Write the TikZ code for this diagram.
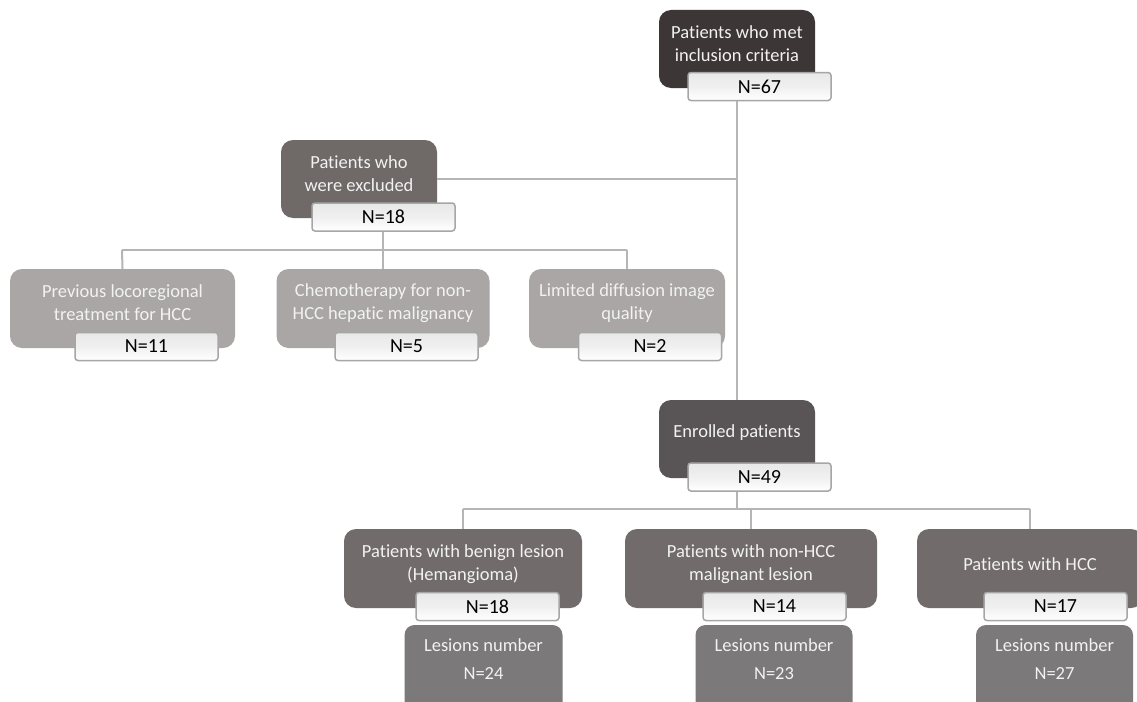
\documentclass[tikz,border=0pt]{standalone}
\usepackage{fontspec}
\setmainfont[RawFeature={-liga;-clig;-dlig;-calt}]{Carlito}
\definecolor{cTop}{HTML}{3C3637}
\definecolor{cExc}{HTML}{6F6968}
\definecolor{cLight}{HTML}{AAA6A5}
\definecolor{cEnr}{HTML}{595556}
\definecolor{cPat}{HTML}{716B6B}
\definecolor{cLes}{HTML}{7B797A}
\definecolor{cLine}{HTML}{B5B5B5}
\definecolor{cNbord}{HTML}{A6A6A6}
\definecolor{cTxt}{HTML}{F2F2F2}
\tikzset{
  box/.style={rectangle, rounded corners=12pt, draw=none, inner sep=0pt},
  nbox/.style={rectangle, rounded corners=3pt, draw=cNbord, line width=1.5pt,
     top color=black!9, bottom color=white, middle color=black!6,
     inner sep=0pt, minimum height=28pt, minimum width=143pt,
     font=\fontsize{20}{24}\selectfont, text=black},
  txt/.style={align=center, text=cTxt, font=\fontsize{18.5}{23}\selectfont, inner sep=0pt},
  ltxt/.style={align=center, text=cTxt, font=\fontsize{18.5}{28}\selectfont, inner sep=0pt},
  conn/.style={draw=cLine, line width=2pt},
}
\begin{document}
\begin{tikzpicture}[x=1pt,y=-1pt]
\clip (0,0) rectangle (1137,701);
\fill[white] (0,0) rectangle (1137,701);
\coordinate (j1) at (737,179);
\coordinate (hl) at (122,250);
\coordinate (hm) at (383,250);
\coordinate (hr) at (627,250);
\coordinate (bl) at (463,509);
\coordinate (bm) at (751,509);
\coordinate (br) at (1030,509);
\coordinate (be) at (737,509);
\coordinate (ex) at (383,250);

% top
\node[box, fill=cTop, minimum width=156pt, minimum height=78pt] (top) at (737,49) {};
\node[txt] (topt) at (737,44) {Patients who met\\inclusion criteria};
\node[nbox] (topn) at (759.5,86.5) {N=67};

% excluded
\node[box, fill=cExc, minimum width=156pt, minimum height=78pt] (exc) at (359,179) {};
\node[txt] (exct) at (359,174) {Patients who\\were excluded};
\node[nbox] (excn) at (383.5,217) {N=18};

% three exclusions
\node[box, fill=cLight, minimum width=225pt, minimum height=79pt] (prev) at (122.5,308.5) {};
\node[txt] (prevt) at (122.5,303) {Previous locoregional\\treatment for HCC};
\node[nbox] (prevn) at (146.5,346.5) {N=11};

\node[box, fill=cLight, minimum width=213pt, minimum height=79pt] (chem) at (383,308.5) {};
\node[txt] (chemt) at (383,303) {Chemotherapy for non-\\HCC hepatic malignancy};
\node[nbox] (chemn) at (406.5,346.5) {N=5};

\node[box, fill=cLight, minimum width=196pt, minimum height=79pt] (lim) at (627,308.5) {};
\node[txt] (limt) at (627,303) {Limited diffusion image\\quality};
\node[nbox] (limn) at (650,346.5) {N=2};

% enrolled
\node[box, fill=cEnr, minimum width=156pt, minimum height=78pt] (enr) at (737,439) {};
\node[txt] (enrt) at (737,433) {Enrolled patients};
\node[nbox] (enrn) at (759.5,477) {N=49};

% bottom patients
\node[box, fill=cPat, minimum width=238pt, minimum height=79pt] (ben) at (463,568.5) {};
\node[txt] (bent) at (463,564) {Patients with benign lesion\\(Hemangioma)};
\node[nbox] (benn) at (487.5,606.5) {N=18};
\node[box, fill=cLes, minimum width=158pt, minimum height=90pt, rounded corners=10pt] (benl) at (483.5,670) {};
\node[ltxt] (benlt) at (483.5,659) {Lesions number\\N=24};

\node[box, fill=cPat, minimum width=252pt, minimum height=79pt] (non) at (751,568.5) {};
\node[txt] (nont) at (751,564) {Patients with non-HCC\\malignant lesion};
\node[nbox] (nonn) at (774.5,606.5) {N=14};
\node[box, fill=cLes, minimum width=157pt, minimum height=90pt, rounded corners=10pt] (nonl) at (774,670) {};
\node[ltxt] (nonlt) at (774,659) {Lesions number\\N=23};

\node[box, fill=cPat, minimum width=226pt, minimum height=79pt] (hcc) at (1030,568.5) {};
\node[txt] (hcct) at (1030,564) {Patients with HCC};
\node[nbox] (hccn) at (1055.5,606.5) {N=17};
\node[box, fill=cLes, minimum width=157pt, minimum height=90pt, rounded corners=10pt] (hccl) at (1054.5,670) {};
\node[ltxt] (hcclt) at (1054.5,659) {Lesions number\\N=27};

% connectors
\draw[conn] (topn.south -| top.south) -- (enr.north);
\draw[conn] (exc.east) -- (j1);
\draw[conn] (excn.south -| ex) -- (ex);
\draw[conn] (hl) -- (hr);
\draw[conn] (hl) -- (prev.north);
\draw[conn] (hm) -- (chem.north);
\draw[conn] (hr) -- (lim.north);
\draw[conn] (enrn.south -| be) -- (be);
\draw[conn] (bl) -- (br);
\draw[conn] (bl) -- (ben.north);
\draw[conn] (bm) -- (non.north);
\draw[conn] (br) -- (hcc.north);
\end{tikzpicture}
\end{document}
